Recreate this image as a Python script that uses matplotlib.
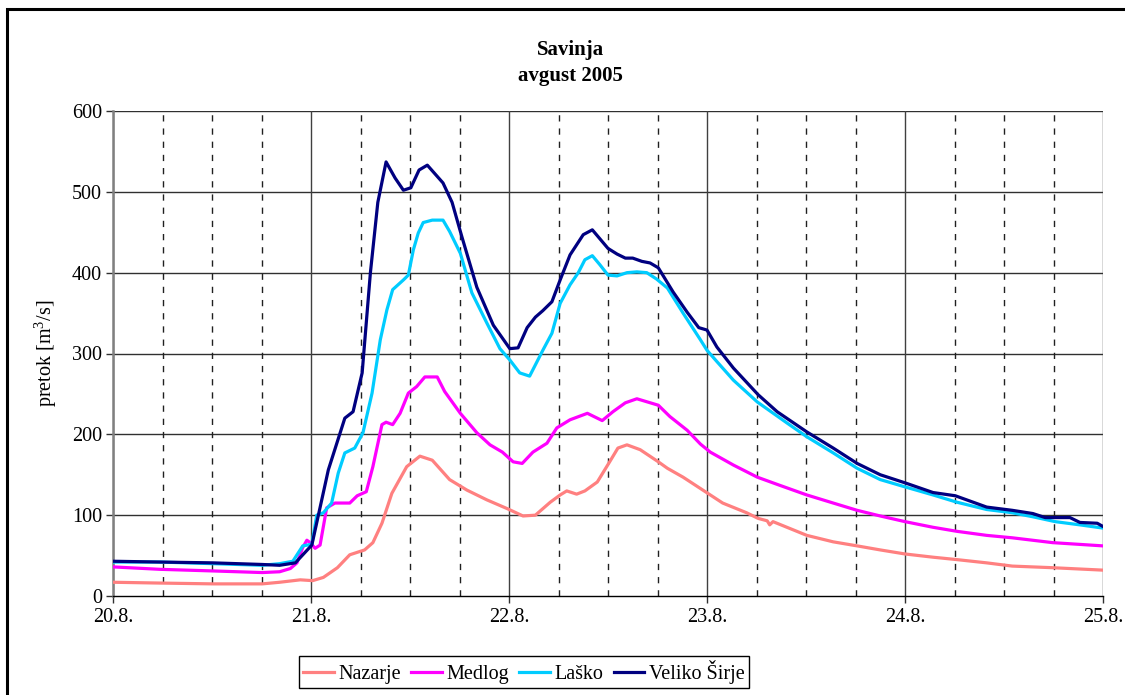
import matplotlib
matplotlib.use("Agg")
import matplotlib.pyplot as plt
from matplotlib.patches import Rectangle
import numpy as np

# ---- data (hours since 20.8. 00:00, discharge m3/s) ----
nazarje_h = [0, 5.7, 12.1, 18.1, 20.2, 22.7, 24.2, 25.5, 27.2, 28.7, 30.5, 31.5, 32.6, 33.8, 35.6,
             37.2, 38.7, 40.8, 42.9, 45.3, 47.8, 49.7, 51.2, 53.0, 54.2, 55.0, 56.2, 57.2, 58.7, 60.2,
             61.2, 62.3, 63.9, 66.1, 67.2, 69.1, 71.2, 73.9, 76.8, 78.2, 79.3, 79.6, 80.0, 84.1, 87.3,
             90.2, 93.0, 96.0, 99.4, 102.3, 105.9, 109.0, 113.9, 120.0]
nazarje_q = [17, 16, 15, 15, 17, 20, 19, 23, 35, 51, 57, 66, 90, 127, 160,
             173, 168, 144, 131, 119, 108, 99, 100, 116, 125, 130, 126, 130, 141, 166,
             183, 187, 181, 166, 158, 147, 133, 115, 103, 96, 93, 88, 92, 75, 67,
             62, 57, 52, 48, 45, 41, 37, 35, 32]

medlog_h = [0, 5.7, 12.1, 18.1, 20.2, 21.5, 22.3, 23.0, 23.5, 23.9, 24.5, 25.1, 25.9, 26.9, 28.7,
            29.6, 30.7, 31.5, 32.6, 33.1, 33.9, 34.8, 35.8, 36.8, 37.8, 39.3, 40.2, 42.1, 44.1, 45.7,
            47.2, 48.5, 49.6, 50.9, 52.6, 53.8, 55.4, 57.5, 59.3, 60.6, 62.1, 63.5, 64.8, 66.1, 67.5,
            69.6, 71.2, 72.4, 75.2, 78.1, 80.8, 84.1, 87.3, 90.2, 93.0, 96.0, 99.4, 102.3, 105.9, 109.0,
            113.9, 120.0]
medlog_q = [36, 33, 31, 29, 30, 34, 41, 60, 69, 66, 59, 63, 109, 115, 115,
            124, 129, 160, 212, 215, 212, 226, 251, 259, 271, 271, 253, 226, 202, 187,
            178, 166, 164, 178, 189, 208, 218, 226, 217, 228, 239, 244, 240, 236, 222,
            205, 188, 178, 162, 147, 137, 125, 115, 106, 99, 92, 85, 80, 75, 72,
            66, 62]

lasko_h = [0, 5.7, 12.1, 18.1, 20.2, 21.8, 23.0, 24.1, 24.7, 25.5, 26.5, 27.3, 28.1, 29.3, 30.3,
           31.4, 32.4, 33.2, 33.9, 35.2, 35.8, 36.4, 37.0, 37.6, 38.7, 40.0, 40.8, 42.1, 43.5, 45.3,
           46.9, 48.1, 49.3, 50.5, 52.1, 53.2, 54.2, 55.4, 56.4, 57.2, 58.1, 59.0, 60.0, 61.1, 62.3,
           63.5, 64.7, 65.9, 67.2, 69.1, 71.2, 72.0, 73.2, 75.2, 78.1, 81.7, 84.1, 87.3, 90.2, 93.0,
           96.0, 99.4, 102.3, 105.9, 109.0, 111.5, 114.2, 117.2, 120.0]
lasko_q = [42, 42, 40, 38, 40, 43, 62, 64, 100, 103, 115, 152, 177, 183, 202,
           251, 317, 354, 379, 391, 397, 428, 449, 462, 465, 465, 451, 424, 375, 338,
           306, 292, 276, 272, 304, 325, 362, 385, 400, 416, 421, 410, 397, 396, 400,
           401, 400, 392, 381, 350, 317, 304, 290, 267, 240, 214, 197, 177, 158, 144,
           135, 125, 116, 107, 103, 98, 92, 88, 84]

sirje_h = [0, 5.7, 12.1, 18.1, 20.2, 22.1, 24.1, 26.1, 28.1, 29.1, 30.2, 31.2, 32.1, 33.1, 34.2,
           35.2, 36.1, 37.1, 38.1, 40.0, 41.1, 42.3, 44.1, 46.1, 48.1, 49.1, 50.2, 51.2, 52.1, 53.2,
           54.2, 55.4, 57.0, 58.1, 60.0, 61.1, 62.1, 63.0, 64.1, 65.1, 66.1, 67.9, 69.6, 71.0, 72.0,
           73.2, 75.2, 78.2, 80.5, 84.1, 87.3, 90.2, 93.0, 96.0, 99.4, 102.1, 105.9, 109.0, 111.5, 113.0,
           116.0, 117.2, 119.3, 120.0]
sirje_q = [43, 42, 41, 39, 38, 41, 63, 156, 220, 228, 276, 400, 487, 537, 517,
           502, 505, 527, 533, 511, 487, 444, 382, 335, 306, 307, 332, 345, 353, 364,
           391, 422, 447, 453, 430, 423, 418, 418, 414, 412, 406, 376, 351, 332, 329,
           308, 282, 249, 228, 203, 183, 164, 150, 140, 128, 124, 110, 106, 102, 97,
           97, 91, 90, 86]

series_names = ["Nazarje", "Medlog", "Laško", "Veliko Širje"]
series_colors = ["#FF8080", "#FF00FF", "#00CCFF", "#000080"]
day_labels = ["20.8.", "21.8.", "22.8.", "23.8.", "24.8.", "25.8."]
y_ticks = [0, 100, 200, 300, 400, 500, 600]

# ---- style ----
plt.rcParams['font.family'] = ['Liberation Serif', 'DejaVu Serif']
plt.rcParams['mathtext.fontset'] = 'custom'
plt.rcParams['mathtext.rm'] = 'Liberation Serif'

fig = plt.figure(figsize=(11.25, 6.95), dpi=100)
ax = fig.add_axes([113 / 1125, 1 - 596 / 695, (1103 - 113) / 1125, (596 - 111) / 695])

ndays = len(day_labels) - 1
ax.set_xlim(0, ndays)
ax.set_ylim(0, 600)

# gridlines
for yv in y_ticks[1:]:
    ax.axhline(yv, color="#303030", lw=1.0, zorder=1)
for d in range(ndays + 1):
    ax.axvline(d, color="#404040", lw=1.0, zorder=1)
    if d < ndays:
        for q in (0.25, 0.5, 0.75):
            ax.axvline(d + q, color="#202020", lw=1.0, dashes=(4.5, 5), zorder=1)

all_h = [nazarje_h, medlog_h, lasko_h, sirje_h]
all_q = [nazarje_q, medlog_q, lasko_q, sirje_q]
for h, q, name, c in zip(all_h, all_q, series_names, series_colors):
    ax.plot(np.array(h) / 24.0, q, color=c, lw=2.3, label=name, zorder=3,
            solid_joinstyle='round')

ax.set_xticks(range(ndays + 1))
ax.set_xticklabels(day_labels)
ax.set_yticks(y_ticks)
ax.tick_params(axis='both', labelsize=14.5, direction='out', length=5, width=1, color='#303030')
ax.tick_params(axis='x', pad=4)
ax.tick_params(axis='y', pad=3)

for s in ['top', 'right']:
    ax.spines[s].set_visible(False)
ax.spines['left'].set_color('#808080')
ax.spines['left'].set_linewidth(1.8)
ax.spines['bottom'].set_color('black')
ax.spines['bottom'].set_linewidth(1.0)

ax.set_ylabel(r'pretok [m$^{\mathregular{3}}$/s]', fontsize=14.5)
ax.yaxis.set_label_coords(-0.055, 0.5)

fig.text(570 / 1125, 1 - 55 / 695, "Savinja", ha='center', va='baseline',
         fontsize=15, fontweight='bold')
fig.text(570 / 1125, 1 - 81 / 695, "avgust 2005", ha='center', va='baseline',
         fontsize=15, fontweight='bold')

leg = fig.legend(loc='center', bbox_to_anchor=(524 / 1125, 1 - 672 / 695), ncol=4,
                 fontsize=14.5, frameon=True, fancybox=False, framealpha=1,
                 edgecolor='black', handlelength=1.5, handletextpad=0.25,
                 columnspacing=0.5, borderpad=0.2, borderaxespad=0)
leg.get_frame().set_linewidth(1.0)

# chart border
fig.patches.append(Rectangle((7 / 1125, -0.05), 1.2, 1.05 - 9 / 695, transform=fig.transFigure,
                             fill=False, edgecolor='black', lw=2.2, zorder=0))

fig.savefig("out.png", dpi=100)
